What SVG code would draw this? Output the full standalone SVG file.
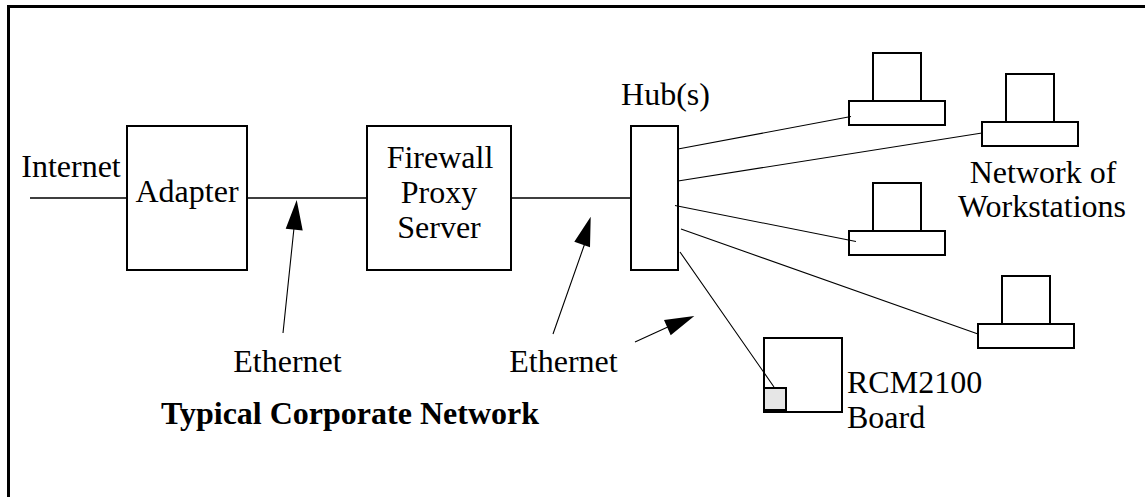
<svg xmlns="http://www.w3.org/2000/svg" width="1145" height="497" viewBox="0 0 1145 497">
<style>
.box{fill:#fff;stroke:#000;stroke-width:2}
.ln{fill:none;stroke:#000;stroke-width:1.6}
.th{fill:none;stroke:#000;stroke-width:1.1}
.ah{fill:#000;stroke:none}
text{font-family:"Liberation Serif","Times New Roman",serif;font-size:32px;fill:#000;text-anchor:middle}
</style>
<rect width="1145" height="497" fill="#fff"/>
<path id="frame" d="M8.500 497V6.500H1145" fill="none" stroke="#000" stroke-width="3"/>
<g id="adapter"><rect class="box" x="127" y="126" width="120" height="144"/><text x="187" y="202">Adapter</text></g>
<g id="firewall"><rect class="box" x="367" y="126" width="144" height="144"/><text x="440" y="168">Firewall</text><text x="439" y="203">Proxy</text><text x="439" y="238">Server</text></g>
<g id="hub"><rect class="box" x="631" y="126" width="47" height="144"/><text x="665.500" y="105">Hub(s)</text></g>
<g id="internet"><text x="71" y="177">Internet</text></g>
<g id="ws1"><rect class="box" x="873" y="53" width="48" height="48"/><rect class="box" x="849" y="101" width="96" height="24"/></g>
<g id="ws2"><rect class="box" x="1006" y="74" width="48" height="48"/><rect class="box" x="982" y="122" width="96" height="24"/></g>
<g id="ws3"><rect class="box" x="873" y="183" width="48" height="48"/><rect class="box" x="849" y="231" width="96" height="24"/></g>
<g id="ws4"><rect class="box" x="1002" y="276" width="48" height="48"/><rect class="box" x="978" y="324" width="96" height="24"/></g>
<g id="network-label"><text x="1043" y="183">Network of</text><text x="1042" y="217">Workstations</text></g>
<g id="rcm"><rect x="764" y="338" width="78" height="74" fill="none" stroke="#000" stroke-width="2"/><rect x="764" y="388" width="22" height="22" fill="#e6e6e6" stroke="#000" stroke-width="2"/><path d="M764 410.500H786" stroke="#000" stroke-width="3"/><text x="847" y="393" style="text-anchor:start">RCM2100</text><text x="847" y="428" style="text-anchor:start">Board</text></g>
<g id="eth1"><text x="287.500" y="372">Ethernet</text></g>
<g id="eth2"><text x="563.500" y="372">Ethernet</text></g>
<g id="title"><text x="350" y="424" style="font-weight:bold">Typical Corporate Network</text></g>
<g id="connectors">
<path class="ln" d="M30 198H127M247 198H367M511 198H631"/>
<path class="th" d="M678 149L851 116.500M678 181L982 133M675 205.500L856 241.500M681 229L978 334M680 252L774 387"/>
<path class="th" d="M283 333L294 228M553 334L585 243M635 342L670 326"/>
<path class="ah" d="M296.700 200L302.700 230.500L285.700 228.700ZM590.700 216.700L590 247.300L574.300 241.700ZM694.300 316L670.700 335.300L664 320Z"/>
</g>
</svg>
